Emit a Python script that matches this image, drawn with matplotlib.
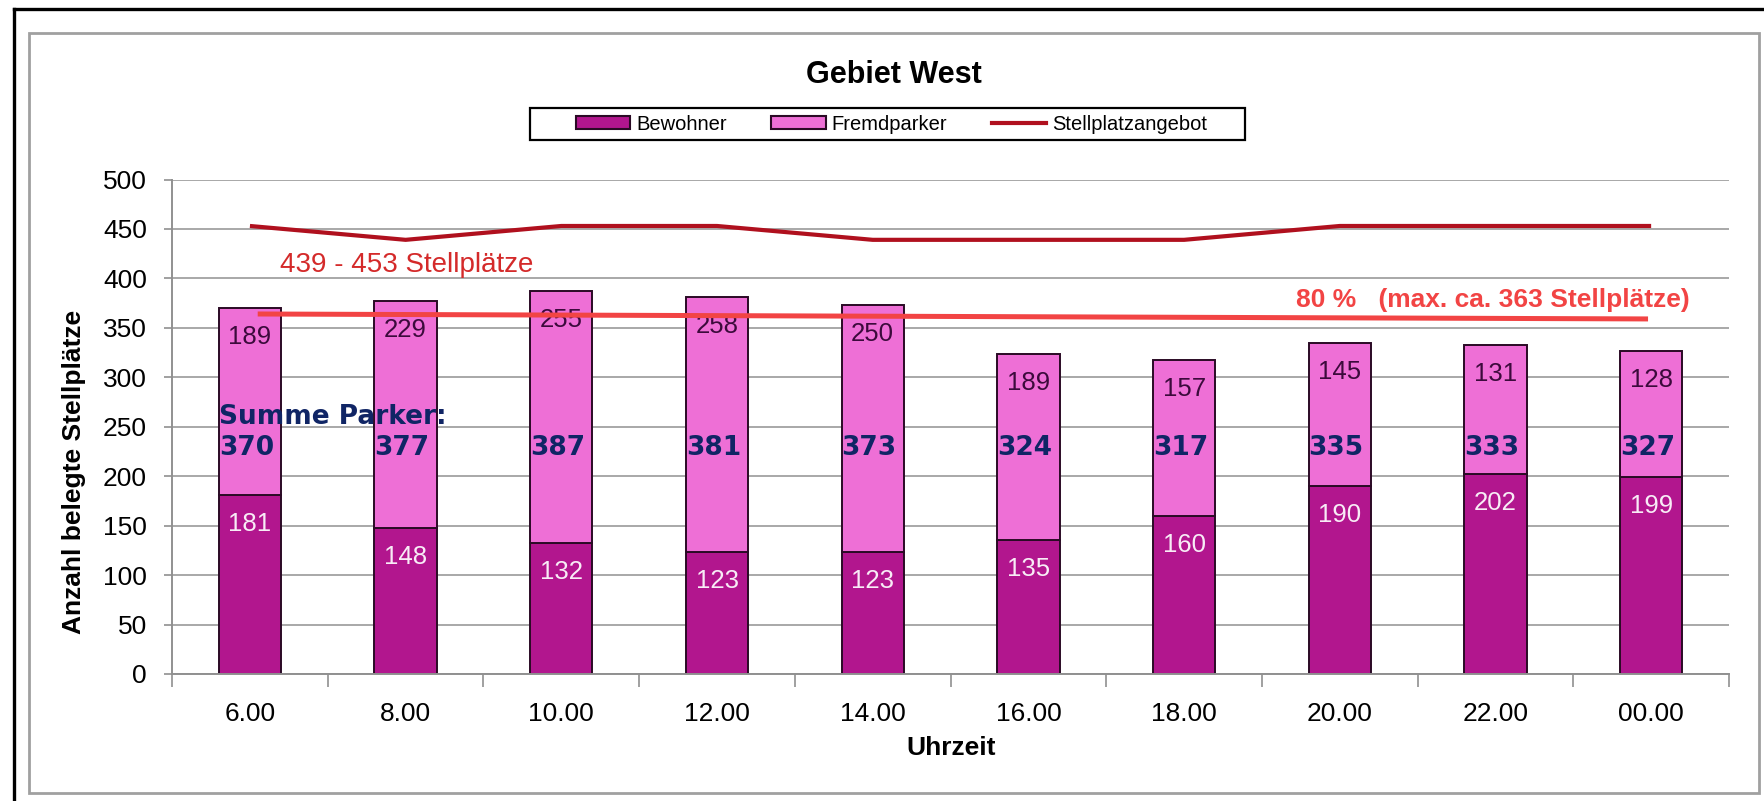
import numpy as np
import matplotlib
matplotlib.use("Agg")
import matplotlib.pyplot as plt
from matplotlib.patches import Patch, Rectangle
from matplotlib.lines import Line2D

plt.rcParams["font.family"] = ["Liberation Sans", "DejaVu Sans"]

# ── Data ──────────────────────────────────────────────────────────────────────
uhrzeit      = ["6.00", "8.00", "10.00", "12.00", "14.00",
                "16.00", "18.00", "20.00", "22.00", "00.00"]
bewohner     = [181, 148, 132, 123, 123, 135, 160, 190, 202, 199]
fremdparker  = [189, 229, 255, 258, 250, 189, 157, 145, 131, 128]
angebot      = [453, 439, 453, 453, 439, 439, 439, 453, 453, 453]
grenze_x     = [0.05, 8.98]        # 80 % line, drawn by hand in the original
grenze_y     = [364, 359]

summe = [b + f for b, f in zip(bewohner, fremdparker)]

# ── Colours ───────────────────────────────────────────────────────────────────
c_bew   = "#b2168e"
c_fremd = "#ee6fd6"
c_ang   = "#b0101e"
c_80    = "#f24444"
c_navy  = "#102565"

fig = plt.figure(figsize=(17.65, 8.01), dpi=100)
ax = fig.add_axes([0.0975, 0.1586, 0.8821, 0.6173])

x = np.arange(len(uhrzeit))
w = 0.40

ax.bar(x, bewohner, w, color=c_bew, edgecolor="#2a0a25", linewidth=1.4, zorder=2)
ax.bar(x, fremdparker, w, bottom=bewohner, color=c_fremd,
       edgecolor="#2a0a25", linewidth=1.4, zorder=2)

# value labels ("inside end")
for xi, v in zip(x, bewohner):
    ax.annotate(str(v), (xi, v), xytext=(0, -29), textcoords="offset pixels",
                ha="center", va="center", fontsize=18.5, color="#f8ecf6", zorder=3)
for xi, v, s in zip(x, fremdparker, summe):
    ax.annotate(str(v), (xi, s), xytext=(0, -29), textcoords="offset pixels",
                ha="center", va="center", fontsize=18.5, color="#3c0a3c", zorder=3)

# Stellplatzangebot
ax.plot(x, angebot, color=c_ang, linewidth=3, zorder=4, solid_capstyle="butt")
ax.text(0.19, 406.5, "439 - 453 Stellplätze", color="#d42a2a", fontsize=20,
        ha="left", va="baseline", zorder=5)

# 80 % line
ax.plot(grenze_x, grenze_y, color=c_80, linewidth=3.6, zorder=6, solid_capstyle="butt")
ax.text(9.25, 371, "80 %   (max. ca. 363 Stellplätze)", color=c_80, fontsize=19,
        fontweight="bold", ha="right", va="baseline", zorder=6)

# Summe Parker
ax.text(x[0] - w / 2, 253, "Summe Parker:", family="DejaVu Sans", fontweight="bold",
        fontsize=19, color=c_navy, ha="left", va="baseline", zorder=5)
for xi, s in zip(x, summe):
    ax.text(xi - w / 2, 221, str(s), family="DejaVu Sans", fontweight="bold",
            fontsize=19, color=c_navy, ha="left", va="baseline", zorder=5)

# ── Axes styling ──────────────────────────────────────────────────────────────
ax.set_xlim(-0.5, len(x) - 0.5)
ax.set_ylim(0, 500)
ax.set_yticks(np.arange(0, 501, 50))
ax.tick_params(axis="y", labelsize=19, length=6, width=1.2, color="#909090", pad=12)
ax.set_xticks(np.arange(-0.5, len(x), 1))
ax.set_xticklabels([])
ax.set_xticks(x, minor=True)
ax.set_xticklabels(uhrzeit, minor=True)
ax.tick_params(axis="x", which="major", length=9, width=1.2, color="#909090", direction="out")
ax.tick_params(axis="x", which="minor", length=0, labelsize=19, pad=20)

ax.grid(axis="y", color="#a8a8a8", linewidth=1.4, zorder=0)
ax.set_axisbelow(True)
for side in ["top", "right"]:
    ax.spines[side].set_visible(False)
for side in ["left", "bottom"]:
    ax.spines[side].set_color("#909090")
    ax.spines[side].set_linewidth(1.4)

ax.set_ylabel("Anzahl belegte Stellplätze", fontsize=19, fontweight="bold")
ax.yaxis.set_label_coords(74 / 1765, 1 - 472 / 801, transform=fig.transFigure)
ax.yaxis.label.set_va("center")

fig.text(951 / 1765, 1 - 755 / 801, "Uhrzeit", fontsize=19, fontweight="bold",
         ha="center", va="baseline")
fig.text(894 / 1765, 1 - 83 / 801, "Gebiet West", fontsize=22, fontweight="bold",
         ha="center", va="baseline")

# legend (frame drawn separately to get the wide Excel-style padding)
handles = [Patch(facecolor=c_bew, edgecolor="#2a0a25", linewidth=1.5),
           Patch(facecolor=c_fremd, edgecolor="#2a0a25", linewidth=1.5),
           Line2D([], [], color=c_ang, linewidth=3)]
fig.legend(handles, ["Bewohner", "Fremdparker", "Stellplatzangebot"],
           loc="center", bbox_to_anchor=(891.5 / 1765, 1 - 124 / 801),
           ncol=3, fontsize=14.5, frameon=False,
           borderpad=0, handlelength=2.7, handleheight=0.6,
           handletextpad=0.3, columnspacing=2.2, borderaxespad=0)
fig.patches.append(Rectangle((530 / 1765, 1 - 140 / 801), 715 / 1765, 32 / 801,
                             transform=fig.transFigure, fill=False,
                             edgecolor="black", linewidth=1.6))

# frames around the chart
fig.patches.append(Rectangle((29 / 1765, 1 - 793 / 801), 1730 / 1765, 760 / 801,
                             transform=fig.transFigure, fill=False,
                             edgecolor="#a0a0a0", linewidth=2))
fig.add_artist(Line2D([14 / 1765, 1], [1 - 9 / 801] * 2, transform=fig.transFigure,
                      color="black", linewidth=2.4))
fig.add_artist(Line2D([14 / 1765] * 2, [0, 1 - 9 / 801], transform=fig.transFigure,
                      color="black", linewidth=2.4))

fig.savefig("out.png", dpi=100)
